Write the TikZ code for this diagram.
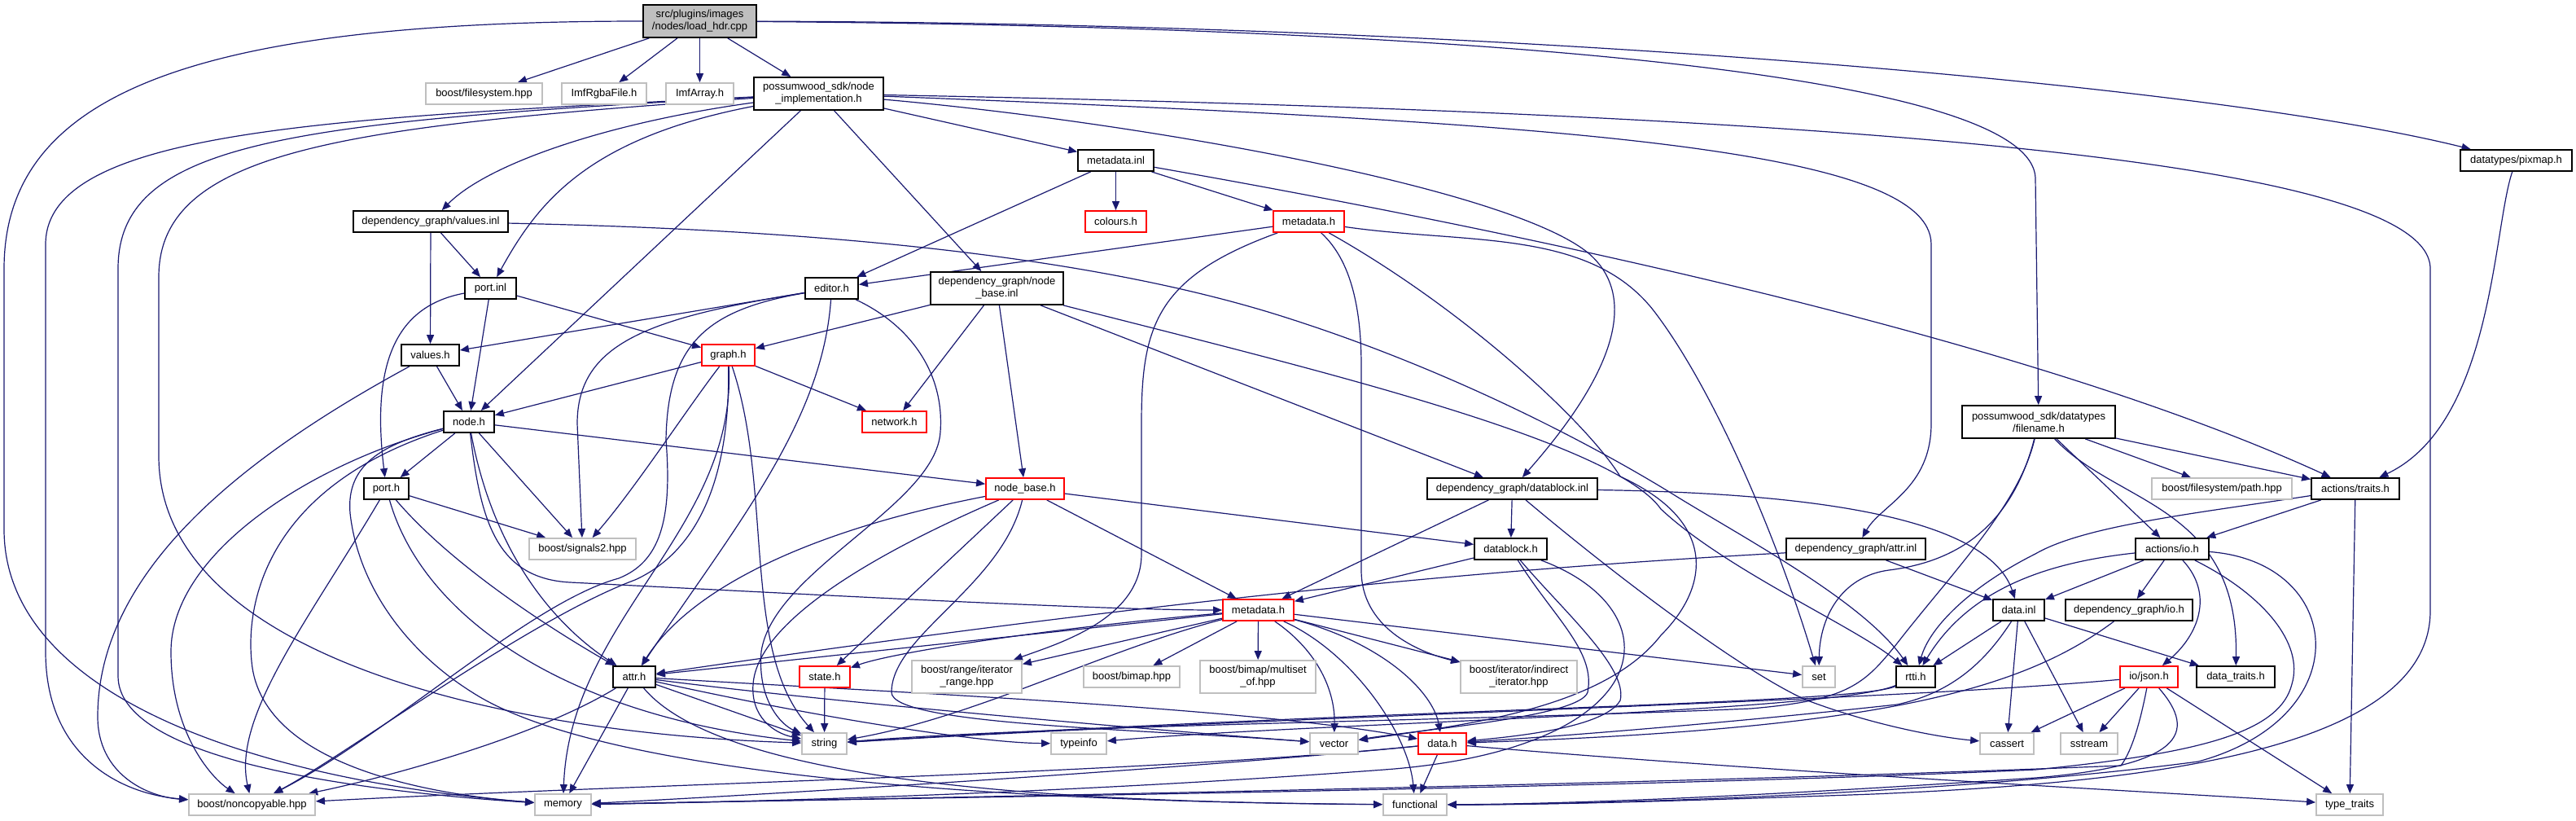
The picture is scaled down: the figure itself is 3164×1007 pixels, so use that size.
\documentclass[tikz,border=0pt]{standalone}
\usepackage{fontspec}
\setmainfont{Liberation Sans}
\usetikzlibrary{arrows.meta,backgrounds}
\definecolor{edgec}{HTML}{191970}
\definecolor{gborder}{HTML}{BFBFBF}
\definecolor{topfill}{HTML}{BFBFBF}
\definecolor{rborder}{HTML}{FF0000}
\newcommand{\nodefont}{\fontsize{6.5}{7.5}\selectfont}
\tikzset{
  nb/.style={draw=black, line width=0.9pt, fill=white, inner sep=0pt, minimum height=13pt, font=\nodefont, align=center, text=black},
  two/.style={minimum height=20pt},
  gb/.style={nb, draw=gborder},
  rb/.style={nb, draw=rborder},
  e/.style={draw=edgec, line width=0.6pt, -{Triangle[length=5.5pt,width=4.5pt]}},
}
\begin{document}
\begin{tikzpicture}[x=0.5pt, y=-0.5pt]
\useasboundingbox (0,0) rectangle (3164,1007);
% ---------- nodes ----------
\node[nb, two, fill=topfill, minimum width=69.5pt] (top) at (859.5,26) {src/plugins/images\\/nodes/load\_hdr.cpp};
\node[gb, minimum width=71.5pt] (bfs) at (594.5,115) {boost/filesystem.hpp};
\node[gb, minimum width=52pt] (imfrgba) at (742,115) {ImfRgbaFile.h};
\node[gb, minimum width=41.5pt] (imfarray) at (859.5,115) {ImfArray.h};
\node[nb, two, minimum width=79.5pt] (nimpl) at (1005.5,115) {possumwood\_sdk/node\\\_implementation.h};
\node[nb, minimum width=68.5pt] (pixmap) at (3090.5,197) {datatypes/pixmap.h};
\node[nb, minimum width=46.5pt] (mdinl) at (1370.5,197) {metadata.inl};
\node[nb, minimum width=95pt] (valinl) at (529,272) {dependency\_graph/values.inl};
\node[rb, minimum width=37.5pt] (colours) at (1370.5,272) {colours.h};
\node[rb, minimum width=43.5pt] (mdh1) at (1607.5,272) {metadata.h};
\node[nb, minimum width=31.5pt] (portinl) at (602.5,354) {port.inl};
\node[nb, minimum width=32.5pt] (editor) at (1021.5,354) {editor.h};
\node[nb, two, minimum width=81.5pt] (nbinl) at (1224.5,354) {dependency\_graph/node\\\_base.inl};
\node[nb, minimum width=35.5pt] (valh) at (528.5,436) {values.h};
\node[rb, minimum width=32.5pt] (graph) at (894.5,436) {graph.h};
\node[nb, minimum width=31pt] (nodeh) at (576,518) {node.h};
\node[rb, minimum width=39.5pt] (network) at (1098.5,518) {network.h};
\node[nb, two, minimum width=94pt] (filename) at (2504,518) {possumwood\_sdk/datatypes\\/filename.h};
\node[nb, minimum width=27.5pt] (porth) at (474.5,600) {port.h};
\node[rb, minimum width=48pt] (nodebase) at (1259,600) {node\_base.h};
\node[nb, minimum width=104.5pt] (dbinl) at (1857.5,600) {dependency\_graph/datablock.inl};
\node[gb, minimum width=86pt] (path) at (2729,600) {boost/filesystem/path.hpp};
\node[nb, minimum width=54pt] (traits) at (2893,600) {actions/traits.h};
\node[gb, minimum width=65.5pt] (signals2) at (715.5,674) {boost/signals2.hpp};
\node[nb, minimum width=44.5pt] (dbh) at (1855.5,674) {datablock.h};
\node[nb, minimum width=85.5pt] (attrinl) at (2279.5,674) {dependency\_graph/attr.inl};
\node[nb, minimum width=45pt] (io) at (2668,674) {actions/io.h};
\node[rb, minimum width=43.5pt] (mdh2) at (1545.5,749) {metadata.h};
\node[nb, minimum width=31.5pt] (datainl) at (2479.5,749) {data.inl};
\node[nb, minimum width=78pt] (dgio) at (2615,749) {dependency\_graph/io.h};
\node[nb, minimum width=26pt] (attr) at (779,831) {attr.h};
\node[rb, minimum width=31pt] (state) at (1013,831) {state.h};
\node[gb, two, minimum width=67.5pt] (iterrange) at (1187.5,831) {boost/range/iterator\\\_range.hpp};
\node[gb, minimum width=59pt] (bimap) at (1390,831) {boost/bimap.hpp};
\node[gb, two, minimum width=71pt] (multiset) at (1545,831) {boost/bimap/multiset\\\_of.hpp};
\node[gb, two, minimum width=71.5pt] (indirect) at (1865.5,831) {boost/iterator/indirect\\\_iterator.hpp};
\node[gb, minimum width=20pt] (set) at (2234,831) {set};
\node[nb, minimum width=24pt] (rtti) at (2353,831) {rtti.h};
\node[rb, minimum width=35.5pt] (json) at (2639.5,831) {io/json.h};
\node[nb, minimum width=48pt] (dtraits) at (2746,831) {data\_traits.h};
\node[gb, minimum width=27.5pt] (string) at (1012.5,913) {string};
\node[gb, minimum width=34pt] (typeinfo) at (1325,913) {typeinfo};
\node[gb, minimum width=29.5pt] (vector) at (1638.5,913) {vector};
\node[rb, minimum width=29.5pt] (datah) at (1771.5,913) {data.h};
\node[gb, minimum width=33pt] (cassert) at (2465,913) {cassert};
\node[gb, minimum width=35pt] (sstream) at (2566,913) {sstream};
\node[gb, minimum width=77.5pt] (noncopy) at (309.5,988) {boost/noncopyable.hpp};
\node[gb, minimum width=34.5pt] (memory) at (691.5,988) {memory};
\node[gb, minimum width=39pt] (functional) at (1738,988) {functional};
\node[gb, minimum width=41pt] (typetraits) at (2886,988) {type\_traits};
% ---------- edges ----------
\begin{scope}[on background layer]
% top
\draw[e] (top) -- (bfs);
\draw[e] (top) -- (imfrgba);
\draw[e] (top) -- (imfarray);
\draw[e] (top) -- (nimpl);
\draw[e] (top) .. controls (250,26) and (5,110) .. (5,330) -- (5,650) .. controls (5,860) and (330,960) .. (memory);
\draw[e] (top) .. controls (1700,32) and (2500,80) .. (2500,220) -- (filename);
\draw[e] (top) .. controls (1800,28) and (2700,100) .. (pixmap);
% node_implementation
\draw[e] (nimpl) .. controls (750,150) and (600,200) .. (valinl);
\draw[e] (nimpl) .. controls (720,170) and (660,250) .. (portinl);
\draw[e] (nimpl) -- (nodeh);
\draw[e] (nimpl) .. controls (400,145) and (56,160) .. (56,300) -- (56,800) .. controls (56,930) and (150,975) .. (noncopy);
\draw[e] (nimpl) .. controls (350,150) and (145,175) .. (145,330) -- (145,830) .. controls (145,930) and (420,970) .. (memory);
\draw[e] (nimpl) .. controls (420,155) and (195,185) .. (195,340) -- (195,560) .. controls (195,800) and (600,900) .. (string);
\draw[e] (nimpl) -- (mdinl);
\draw[e] (nimpl) -- (nbinl);
\draw[e] (nimpl) .. controls (1400,150) and (1850,230) .. (1950,310) .. controls (2010,360) and (1990,450) .. (dbinl);
\draw[e] (nimpl) .. controls (1900,150) and (2372,180) .. (2372,300) -- (2372,520) .. controls (2372,600) and (2310,620) .. (attrinl);
\draw[e] (nimpl) .. controls (2300,140) and (2985,200) .. (2985,330) -- (2985,750) .. controls (2985,930) and (2600,962) .. (2300,975) .. controls (2050,984) and (1900,988) .. (functional);
% values.inl
\draw[e] (valinl) -- (portinl);
\draw[e] (valinl) -- (valh);
\draw[e] (valinl) .. controls (900,280) and (1300,300) .. (1580,390) .. controls (1800,460) and (1980,560) .. (2060,610) .. controls (2150,665) and (2290,740) .. (rtti);
% port.inl
\draw[e] (portinl) -- (graph);
\draw[e] (portinl) .. controls (490,375) and (455,440) .. (porth);
\draw[e] (portinl) -- (nodeh);
% values.h
\draw[e] (valh) -- (nodeh);
\draw[e] (valh) .. controls (300,560) and (120,700) .. (120,880) .. controls (120,950) and (180,978) .. (noncopy);
% metadata.inl
\draw[e] (mdinl) -- (colours);
\draw[e] (mdinl) -- (mdh1);
\draw[e] (mdinl) -- (editor);
\draw[e] (mdinl) .. controls (1900,290) and (2500,420) .. (traits);
% metadata.h (upper)
\draw[e] (mdh1) -- (editor);
\draw[e] (mdh1) .. controls (1420,340) and (1402,400) .. (1402,520) -- (1402,680) .. controls (1402,760) and (1300,790) .. (iterrange);
\draw[e] (mdh1) .. controls (1660,320) and (1672,380) .. (1672,450) -- (1672,700) .. controls (1672,770) and (1740,800) .. (indirect);
\draw[e] (mdh1) .. controls (1800,380) and (1950,520) .. (1990,585) .. controls (2110,640) and (2100,720) .. (2040,780) .. controls (1970,870) and (1800,890) .. (vector);
\draw[e] (mdh1) .. controls (1800,300) and (1950,280) .. (2030,380) .. controls (2100,470) and (2180,650) .. (set);
% editor.h
\draw[e] (editor) -- (valh);
\draw[e] (editor) .. controls (800,390) and (709,420) .. (709,520) -- (signals2);
\draw[e] (editor) .. controls (870,380) and (820,420) .. (818,540) .. controls (826,640) and (810,690) .. (760,710) .. controls (650,740) and (480,900) .. (noncopy);
\draw[e] (editor) .. controls (1010,520) and (900,650) .. (attr);
\draw[e] (editor) .. controls (1120,400) and (1160,460) .. (1155,530) .. controls (1150,620) and (950,700) .. (935,800) .. controls (930,860) and (960,890) .. (string);
% node_base.inl
\draw[e] (nbinl) -- (graph);
\draw[e] (nbinl) -- (network);
\draw[e] (nbinl) -- (nodebase);
\draw[e] (nbinl) -- (dbinl);
\draw[e] (nbinl) .. controls (1600,450) and (1980,540) .. (2040,625) .. controls (2120,700) and (2280,770) .. (rtti);
% graph.h
\draw[e] (graph) -- (nodeh);
\draw[e] (graph) .. controls (845,500) and (780,600) .. (signals2);
\draw[e] (graph) -- (network);
\draw[e] (graph) .. controls (897,600) and (850,680) .. (780,712) .. controls (650,760) and (420,930) .. (noncopy);
\draw[e] (graph) .. controls (905,650) and (700,760) .. (memory);
\draw[e] (graph) .. controls (950,600) and (910,800) .. (string);
% node.h
\draw[e] (nodeh) -- (porth);
\draw[e] (nodeh) -- (signals2);
\draw[e] (nodeh) -- (nodebase);
\draw[e] (nodeh) .. controls (590,640) and (610,710) .. (700,715) .. controls (1000,730) and (1350,749) .. (mdh2);
\draw[e] (nodeh) .. controls (610,700) and (700,780) .. (attr);
\draw[e] (nodeh) .. controls (380,570) and (210,680) .. (210,800) .. controls (210,900) and (260,955) .. (noncopy);
\draw[e] (nodeh) .. controls (320,600) and (300,750) .. (310,820) .. controls (330,950) and (560,978) .. (memory);
\draw[e] (nodeh) .. controls (470,545) and (425,570) .. (430,630) .. controls (440,720) and (500,800) .. (580,850) .. controls (750,960) and (1300,985) .. (functional);
% port.h
\draw[e] (porth) -- (signals2);
\draw[e] (porth) .. controls (560,700) and (690,780) .. (attr);
\draw[e] (porth) .. controls (380,760) and (285,880) .. (noncopy);
\draw[e] (porth) .. controls (520,760) and (700,880) .. (string);
% node_base.h
\draw[e] (nodebase) -- (mdh2);
\draw[e] (nodebase) -- (state);
\draw[e] (nodebase) .. controls (1000,650) and (850,720) .. (attr);
\draw[e] (nodebase) .. controls (1050,690) and (930,770) .. (925,840) .. controls (922,880) and (950,900) .. (string);
\draw[e] (nodebase) -- (dbh);
\draw[e] (nodebase) .. controls (1230,720) and (1095,780) .. (1095,850) .. controls (1095,890) and (1400,895) .. (vector);
% metadata.h (lower)
\draw[e] (mdh2) -- (attr);
\draw[e] (mdh2) .. controls (1300,770) and (1100,800) .. (state);
\draw[e] (mdh2) -- (iterrange);
\draw[e] (mdh2) -- (bimap);
\draw[e] (mdh2) -- (multiset);
\draw[e] (mdh2) -- (indirect);
\draw[e] (mdh2) -- (set);
\draw[e] (mdh2) .. controls (1620,800) and (1640,850) .. (vector);
\draw[e] (mdh2) .. controls (1700,790) and (1760,850) .. (datah);
\draw[e] (mdh2) .. controls (1660,800) and (1730,900) .. (functional);
\draw[e] (mdh2) .. controls (1350,800) and (1200,880) .. (string);
% attr.h
\draw[e] (attr) -- (string);
\draw[e] (attr) .. controls (1000,880) and (1200,912) .. (typeinfo);
\draw[e] (attr) -- (memory);
\draw[e] (attr) .. controls (650,910) and (450,960) .. (noncopy);
\draw[e] (attr) .. controls (900,975) and (1400,985) .. (functional);
\draw[e] (attr) .. controls (1000,860) and (1400,895) .. (vector);
\draw[e] (attr) .. controls (1100,850) and (1550,870) .. (datah);
% state.h
\draw[e] (state) -- (string);
% rtti.h
\draw[e] (rtti) .. controls (2280,865) and (1700,870) .. (string);
\draw[e] (rtti) .. controls (2250,875) and (1600,888) .. (typeinfo);
% data.h
\draw[e] (datah) -- (functional);
\draw[e] (datah) .. controls (1450,945) and (900,978) .. (memory);
\draw[e] (datah) .. controls (1400,950) and (800,962) .. (noncopy);
\draw[e] (datah) .. controls (2200,950) and (2700,975) .. (typetraits);
% datablock.inl
\draw[e] (dbinl) -- (dbh);
\draw[e] (dbinl) -- (mdh2);
\draw[e] (dbinl) .. controls (2000,720) and (2150,830) .. (2220,860) .. controls (2300,890) and (2380,905) .. (cassert);
\draw[e] (dbinl) .. controls (2200,605) and (2440,630) .. (datainl);
% datablock.h
\draw[e] (dbh) -- (mdh2);
\draw[e] (dbh) .. controls (1910,760) and (1960,800) .. (1950,850) .. controls (1940,880) and (1750,895) .. (vector);
\draw[e] (dbh) .. controls (1920,750) and (2000,820) .. (1990,860) .. controls (1970,895) and (1850,905) .. (datah);
\draw[e] (dbh) .. controls (2060,750) and (2040,920) .. (1700,945) .. controls (1300,975) and (900,985) .. (memory);
% attr.inl
\draw[e] (attrinl) .. controls (1900,695) and (1500,725) .. (attr);
\draw[e] (attrinl) -- (datainl);
% filename.h
\draw[e] (filename) .. controls (2470,650) and (2400,690) .. (2320,700) .. controls (2260,708) and (2235,760) .. (set);
\draw[e] (filename) .. controls (2480,620) and (2400,700) .. (2330,790) .. controls (2290,840) and (2270,860) .. (2150,870) .. controls (1800,885) and (1300,890) .. (string);
\draw[e] (filename) -- (io);
\draw[e] (filename) .. controls (2600,620) and (2750,620) .. (dtraits);
\draw[e] (filename) -- (path);
\draw[e] (filename) -- (traits);
% pixmap.h
\draw[e] (pixmap) .. controls (3062,280) and (3062,520) .. (traits);
% actions/traits.h
\draw[e] (traits) -- (io);
\draw[e] (traits) .. controls (2700,630) and (2560,645) .. (2500,680) .. controls (2420,720) and (2370,770) .. (rtti);
\draw[e] (traits) -- (typetraits);
% actions/io.h
\draw[e] (io) -- (datainl);
\draw[e] (io) -- (dgio);
\draw[e] (io) .. controls (2720,730) and (2700,780) .. (json);
\draw[e] (io) .. controls (2520,690) and (2420,720) .. (rtti);
\draw[e] (io) .. controls (2780,730) and (2830,790) .. (2815,840) .. controls (2800,900) and (2700,925) .. (2500,945) .. controls (2000,968) and (1100,980) .. (memory);
\draw[e] (io) .. controls (2880,690) and (2900,880) .. (2700,935) .. controls (2400,975) and (1950,988) .. (functional);
% data.inl
\draw[e] (datainl) -- (rtti);
\draw[e] (datainl) -- (cassert);
\draw[e] (datainl) -- (sstream);
\draw[e] (datainl) -- (dtraits);
\draw[e] (datainl) .. controls (2440,810) and (2400,850) .. (2330,865) .. controls (2100,890) and (1900,905) .. (datah);
% dependency_graph/io.h
\draw[e] (dgio) .. controls (2480,850) and (2300,895) .. (datah);
% io/json.h
\draw[e] (json) .. controls (2300,862) and (1600,878) .. (string);
\draw[e] (json) -- (cassert);
\draw[e] (json) -- (sstream);
\draw[e] (json) -- (typetraits);
\draw[e] (json) .. controls (2630,880) and (2620,920) .. (2605,940) .. controls (2000,965) and (1000,982) .. (memory);
\draw[e] (json) .. controls (2700,900) and (2680,940) .. (2500,955) .. controls (2200,975) and (1950,987) .. (functional);
\end{scope}
\end{tikzpicture}
\end{document}
